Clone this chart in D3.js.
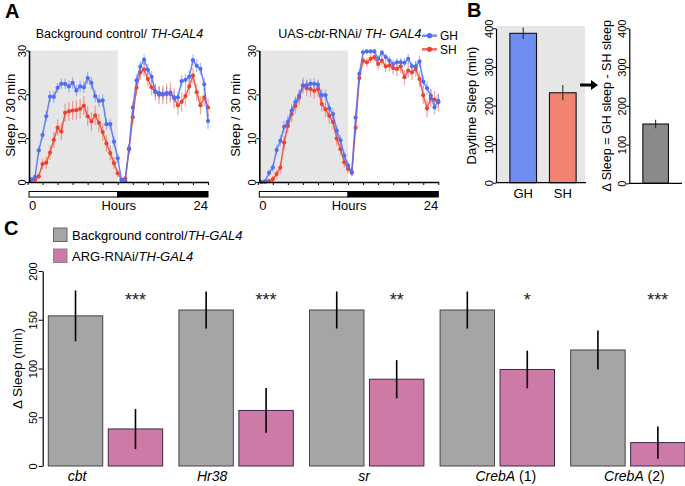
<!DOCTYPE html>
<html><head><meta charset="utf-8">
<script src="https://cdn.jsdelivr.net/npm/d3@7/dist/d3.min.js"></script>
<style>
html,body{margin:0;padding:0;background:#fff;}
svg{display:block;font-family:"Liberation Sans",Arial,sans-serif;}
</style></head>
<body><svg id="c" width="685" height="486"></svg>
<script>
// ---------- Panel A data (sleep per 30-min bin, 48 bins over 24 h) ----------
const ctrlGH = [0.6,1.2,7.2,10.7,15,19.5,19.4,21.5,22.4,22.4,21.8,22.6,20.9,21.8,21.6,23.7,22.6,19.6,18.5,18.6,13.2,13.2,9.2,5.4,
                0.5,0.3,7.7,17,23.2,26.3,27.9,25.6,24,20.7,20.3,20.1,20.3,20.1,19.3,19.3,23,23.3,24,27.8,26.5,25.8,22.3,13.9];
const ctrlGHerr = [0.4,0.6,1,1,1.2,1.3,1.3,1.2,1.2,1.2,1.3,1.3,1.3,1.3,1.3,1.4,1.4,1.4,1.4,1.4,1.3,1.3,1.2,1,
                   0.4,0.4,1,1.3,1.4,1.3,1.2,1.3,1.3,1.4,1.4,1.4,1.4,1.4,1.3,1.3,1.4,1.4,1.4,1.3,1.4,1.4,1.5,1.8];
const ctrlSH = [0.4,0.5,1.3,4.1,4.4,6.7,9.6,12.4,11.5,15.8,16.1,16.3,16.4,16.7,17.4,15,13.8,15.2,13.5,11.4,8.8,6.6,4.3,2.0,
                0.5,0.8,7.4,14.8,21.5,25,25.7,23.5,21.6,20.5,19.9,19.9,20.1,20.4,19.1,17.5,18.3,19.6,21.8,24.3,20.5,17.5,19.3,17];
const ctrlSHerr = [0.3,0.5,0.8,1.2,1.4,1.6,1.8,1.9,2,2.1,2.2,2.2,2.2,2.2,2.2,2.2,2.2,2.2,2.1,2,1.9,1.7,1.4,1,
                   0.4,0.6,1.2,1.7,1.8,1.7,1.6,1.7,1.8,1.9,2.1,2.2,2.3,2.3,2.3,2.3,2.2,2.2,2,1.8,2,2.1,2.1,2.1];
const rnaiGH = [0,0.2,2.1,3.3,7.3,9.4,12.6,13.7,16.3,18.2,19.7,22,22.1,22.4,22.4,22.2,19.8,19.8,16.8,15.5,11.7,9.5,6,3.8,
                2.3,14.7,24.7,29.6,29.8,29.8,29.8,28.1,29.5,28.5,27.7,26.9,27.3,27.3,27.2,28.1,26.4,26.4,27.5,22.9,21.4,19.7,17,18.5];
const rnaiGHerr = [0.2,0.4,0.8,1,1.2,1.3,1.4,1.4,1.4,1.3,1.3,1.3,1.2,1.2,1.2,1.2,1.3,1.3,1.3,1.3,1.3,1.2,1,0.9,
                   0.8,1,0.9,0.6,0.5,0.5,0.5,0.8,0.8,0.9,1,1,1,1,1,1.1,1.1,1.2,1.3,1.4,1.5,1.6,1.6,1.5];
const rnaiSH = [0,0,0.2,0.6,1.8,3.3,9,12.8,15.5,17.4,19.3,22,21.4,21.2,20.8,21.2,17.8,16.6,15.1,13.7,9.9,7.5,4.5,3,
                2.1,12.4,23.7,27.7,27.3,28.1,28.5,26.9,27.7,26.4,26.6,26,25.8,26.4,23.9,25.4,25,25.8,23.5,19.8,16.8,19.1,18.8,18.2];
const rnaiSHerr = [0.2,0.3,0.5,0.8,1,1.3,1.6,1.7,1.8,1.8,1.8,1.8,1.8,1.8,1.8,1.8,1.8,1.8,1.8,1.7,1.6,1.4,1.2,1,
                   0.8,1.4,1.3,1,1,1,1,1.1,1.2,1.3,1.4,1.5,1.6,1.6,1.7,1.7,1.8,1.8,1.8,2,2,2,2,2];
const yTicksA = [0,10,20,30];
const hourTicks = [0,2,4,6,8,10,12,14,16,18,20,22,24];

// ---------- Panel B data ----------
const bCats = ["GH","SH"];
const bValues = [387,233];
const bErr = [15,20];
const deltaValue = [153];
const deltaErr = [11];
const yTicksB = [0,100,200,300,400];

// ---------- Panel C data ----------
const genes = ["cbt","Hr38","sr","CrebA","CrebA"];
const geneSuffix = ["","","",""," (1)"," (2)"].slice(1);
const groupKeys = ["g1","g2","g3","g4","g5"];
const controlVals = [154,160,160,160,119];
const controlErr = [26,19,19,19,20];
const rnaiVals = [38,57,89,99,24];
const rnaiErr = [20.5,23,19.6,19.3,16.5];
const signif = ["***","***","**","*","***"];
const yTicksC = [0,50,100,150,200];
const labelShift = [-28.5,-24,-2.5,8.5,6.5]; // layout: label offsets from group centre

// ---------- colours ----------
const BLUE = "#4e6ef5", RED = "#f0402f";

const svg = d3.select("#c");

function rotTicks(axisG, v, fs){
  axisG.selectAll(".tick text")
    .attr("transform","rotate(-90)")
    .attr("x",0).attr("y",v).attr("dy",null)
    .attr("text-anchor","middle")
    .style("font-size",fs+"px").style("fill","#000");
}

// ================= Panel A =================
function drawA(axisX, title, gh, ghE, sh, shE, ylabX){
  const g = svg.append("g");
  const x = d3.scaleLinear().domain([0,24]).range([axisX-1.5, axisX+179]);
  const y = d3.scaleLinear().domain([0,30]).range([182,50.5]);
  g.append("rect").attr("x",axisX).attr("y",y(30)).attr("width",x(12)-axisX).attr("height",y(0)-y(30)).attr("fill","#e6e6e6");
  const bins = gh.map((d,i)=>(i+1)*0.5);
  [[sh,shE,RED],[gh,ghE,BLUE]].forEach(([vals,errs,col])=>{
    g.append("g").selectAll("line").data(vals).join("line")
      .attr("x1",(d,i)=>x(bins[i])).attr("x2",(d,i)=>x(bins[i]))
      .attr("y1",(d,i)=>y(d-errs[i])).attr("y2",(d,i)=>y(d+errs[i]))
      .attr("stroke",col).attr("stroke-opacity",0.45).attr("stroke-width",1.3);
    g.append("path").datum(vals)
      .attr("d",d3.line().x((d,i)=>x(bins[i])).y(d=>y(d)))
      .attr("fill","none").attr("stroke",col).attr("stroke-width",1.5).attr("stroke-opacity",0.85);
    g.append("g").selectAll("circle").data(vals).join("circle")
      .attr("cx",(d,i)=>x(bins[i])).attr("cy",d=>y(d)).attr("r",2.1).attr("fill",col);
  });
  const ya = g.append("g").attr("transform",`translate(${axisX},0)`)
    .call(d3.axisLeft(y).tickValues(yTicksA).tickSize(3).tickSizeOuter(0));
  ya.select(".domain").attr("stroke-width",1.6);
  rotTicks(ya,-3.5,11);
  const xa = g.append("g").attr("transform",`translate(0,${y(0)})`)
    .call(d3.axisBottom(x).tickValues(hourTicks).tickSize(3).tickSizeOuter(0).tickFormat(""));
  xa.select(".domain").attr("stroke-width",1.4);
  g.append("rect").attr("x",axisX).attr("y",191.5).attr("width",x(12)-axisX).attr("height",5.5)
    .attr("fill","#fff").attr("stroke","#000").attr("stroke-width",1);
  g.append("rect").attr("x",x(12)).attr("y",191.5).attr("width",x(24)-x(12)).attr("height",5.5)
    .attr("fill","#000").attr("stroke","#000").attr("stroke-width",1);
  g.append("text").attr("x",axisX).attr("y",210).style("font-size","13px").text("0");
  g.append("text").attr("x",x(12)+1).attr("y",210).attr("text-anchor","middle").style("font-size","13px").text("Hours");
  g.append("text").attr("x",x(24)).attr("y",210).attr("text-anchor","end").style("font-size","13px").text("24");
  g.append("text").attr("transform",`translate(${ylabX},${(y(0)+y(30))/2-1}) rotate(-90)`)
    .attr("text-anchor","middle").style("font-size","13px").text("Sleep / 30 min");
  const t = g.append("text").attr("x",(axisX+x(24))/2+1).attr("y",38.3).attr("text-anchor","middle").style("font-size","12.5px");
  title.forEach(([s,it])=>t.append("tspan").style("font-style",it?"italic":"normal").text(s));
}
drawA(29,[["Background control/ ",0],["TH-GAL4",1]], ctrlGH, ctrlGHerr, ctrlSH, ctrlSHerr, 15);
drawA(259.3,[["UAS-",0],["cbt",1],["-RNAi/ ",0],["TH- GAL4",1]], rnaiGH, rnaiGHerr, rnaiSH, rnaiSHerr, 240);

// legend A
[["GH",BLUE,35.7,40],["SH",RED,49.3,53.5]].forEach(([lab,col,ly,ty])=>{
  svg.append("line").attr("x1",422).attr("x2",437).attr("y1",ly).attr("y2",ly).attr("stroke",col).attr("stroke-width",2.5).attr("stroke-opacity",0.8);
  svg.append("circle").attr("cx",429.5).attr("cy",ly).attr("r",2.6).attr("fill",col);
  svg.append("text").attr("x",440).attr("y",ty).style("font-size","12px").text(lab);
});

// panel letters
[["A",5,18],["B",467,17],["C",4,235]].forEach(([l,x,y])=>
  svg.append("text").attr("x",x).attr("y",y).style("font-size","20px").style("font-weight","bold").text(l));

// ================= Panel B =================
{
  const axisX = 496;
  const y = d3.scaleLinear().domain([0,400]).range([182.7,28.3]);
  const x = d3.scaleBand().domain(bCats).range([axisX,590]).paddingInner(0.327).paddingOuter(0.35);
  svg.append("rect").attr("x",axisX).attr("y",26).attr("width",89).attr("height",y(0)-26).attr("fill","#e6e6e6");
  const cols = ["#6f8cf1","#f38371"];
  svg.append("g").selectAll("rect").data(bValues).join("rect")
    .attr("x",(d,i)=>x(bCats[i])).attr("y",d=>y(d)).attr("width",x.bandwidth()).attr("height",d=>y(0)-y(d))
    .attr("fill",(d,i)=>cols[i]).attr("stroke","#111").attr("stroke-width",1.1);
  svg.append("g").selectAll("line").data(bValues).join("line")
    .attr("x1",(d,i)=>x(bCats[i])+x.bandwidth()/2).attr("x2",(d,i)=>x(bCats[i])+x.bandwidth()/2)
    .attr("y1",(d,i)=>y(d-bErr[i])).attr("y2",(d,i)=>y(d+bErr[i])).attr("stroke","#222").attr("stroke-width",1);
  const ya = svg.append("g").attr("transform",`translate(${axisX},0)`)
    .call(d3.axisLeft(y).tickValues(yTicksB).tickSize(3).tickSizeOuter(0));
  ya.select(".domain").attr("stroke-width",1.2);
  rotTicks(ya,-3,11);
  svg.append("line").attr("x1",axisX).attr("x2",586).attr("y1",y(0)).attr("y2",y(0)).attr("stroke","#000").attr("stroke-width",1.2);
  bCats.forEach(c=>svg.append("text").attr("x",x(c)+x.bandwidth()/2).attr("y",197.5).attr("text-anchor","middle").style("font-size","13px").text(c));
  svg.append("text").attr("transform",`translate(475.5,${(y(0)+y(400))/2}) rotate(-90)`)
    .attr("text-anchor","middle").style("font-size","13px").text("Daytime Sleep (min)");
  svg.append("path").attr("d","M580,83.5 L591,83.5 L591,80 L598,85 L591,90 L591,86.5 L580,86.5 Z").attr("fill","#000");

  const ax2 = 629.3;
  const y2 = d3.scaleLinear().domain([0,400]).range([183.3,28.3]);
  const x2 = d3.scaleBand().domain(["Δ"]).range([ax2,682]).paddingInner(0).paddingOuter(0.53);
  svg.append("g").selectAll("rect").data(deltaValue).join("rect")
    .attr("x",x2("Δ")).attr("y",d=>y2(d)).attr("width",x2.bandwidth()).attr("height",d=>y2(0)-y2(d))
    .attr("fill","#8a8a8a").attr("stroke","#111").attr("stroke-width",1.1);
  svg.append("g").selectAll("line").data(deltaValue).join("line")
    .attr("x1",x2("Δ")+x2.bandwidth()/2).attr("x2",x2("Δ")+x2.bandwidth()/2)
    .attr("y1",(d,i)=>y2(d-deltaErr[i])).attr("y2",(d,i)=>y2(d+deltaErr[i])).attr("stroke","#222").attr("stroke-width",1);
  const ya2 = svg.append("g").attr("transform",`translate(${ax2},0)`)
    .call(d3.axisLeft(y2).tickValues(yTicksB).tickSize(3).tickSizeOuter(0));
  ya2.select(".domain").attr("stroke-width",1.2);
  rotTicks(ya2,-3,11);
  svg.append("line").attr("x1",ax2).attr("x2",682).attr("y1",y2(0)).attr("y2",y2(0)).attr("stroke","#000").attr("stroke-width",1.2);
  svg.append("text").attr("transform",`translate(611,${(y2(0)+y2(400))/2}) rotate(-90)`)
    .attr("text-anchor","middle").style("font-size","12.5px").text("Δ Sleep = GH sleep - SH sleep");
}

// ================= Panel C =================
{
  const axisX = 42.7;
  const y = d3.scaleLinear().domain([0,200]).range([466,271]);
  const x0 = d3.scaleBand().domain(groupKeys).range([40.2,693.2]).paddingInner(0.124).paddingOuter(0.062);
  const x1 = d3.scaleBand().domain(["ctrl","rnai"]).range([0,x0.bandwidth()]).paddingInner(0.092);
  const series = [["ctrl",controlVals,controlErr,"#a5a5a5","#444"],["rnai",rnaiVals,rnaiErr,"#cd7aa6","#3a2a4a"]];
  series.forEach(([k,vals,errs,fill,stroke])=>{
    svg.append("g").selectAll("rect").data(vals).join("rect")
      .attr("x",(d,i)=>x0(groupKeys[i])+x1(k)).attr("y",d=>y(d))
      .attr("width",x1.bandwidth()).attr("height",d=>y(0)-y(d))
      .attr("fill",fill).attr("stroke",stroke).attr("stroke-width",1);
  });
  series.forEach(([k,vals,errs])=>{
    svg.append("g").selectAll("line").data(vals).join("line")
      .attr("x1",(d,i)=>x0(groupKeys[i])+x1(k)+x1.bandwidth()/2)
      .attr("x2",(d,i)=>x0(groupKeys[i])+x1(k)+x1.bandwidth()/2)
      .attr("y1",(d,i)=>y(d-errs[i])).attr("y2",(d,i)=>y(d+errs[i]))
      .attr("stroke","#000").attr("stroke-width",1.6);
  });
  svg.append("g").selectAll("text").data(signif).join("text")
    .attr("x",(d,i)=>x0(groupKeys[i])+x1("rnai")+x1.bandwidth()/2)
    .attr("y",306).attr("text-anchor","middle").style("font-size","18px").style("fill","#222").text(d=>d);
  const ya = svg.append("g").attr("transform",`translate(${axisX},0)`)
    .call(d3.axisLeft(y).tickValues(yTicksC).tickSize(4).tickSizeOuter(0));
  ya.select(".domain").attr("stroke-width",1.2);
  rotTicks(ya,-5.4,11);
  genes.forEach((gname,i)=>{
    const t = svg.append("text").attr("x",x0(groupKeys[i])+x0.bandwidth()/2+labelShift[i]).attr("y",481)
      .attr("text-anchor","middle").style("font-size","14px");
    t.append("tspan").style("font-style","italic").text(gname);
    if(geneSuffix[i]) t.append("tspan").text(geneSuffix[i]);
  });
  svg.append("text").attr("transform",`translate(22,${(y(0)+y(200))/2}) rotate(-90)`)
    .attr("text-anchor","middle").style("font-size","13.5px").text("Δ Sleep (min)");
  [["#a5a5a5","#666",228,["Background control/","TH-GAL4"],239.5],["#cd7aa6","#888",249,["ARG-RNAi/","TH-GAL4"],261]].forEach(([f,s,ry,parts,ty])=>{
    svg.append("rect").attr("x",53.5).attr("y",ry).attr("width",13.5).attr("height",13.5).attr("fill",f).attr("stroke",s).attr("stroke-width",1);
    const t = svg.append("text").attr("x",72).attr("y",ty).style("font-size","13px");
    t.append("tspan").text(parts[0]);
    t.append("tspan").style("font-style","italic").text(parts[1]);
  });
}
</script></body></html>
